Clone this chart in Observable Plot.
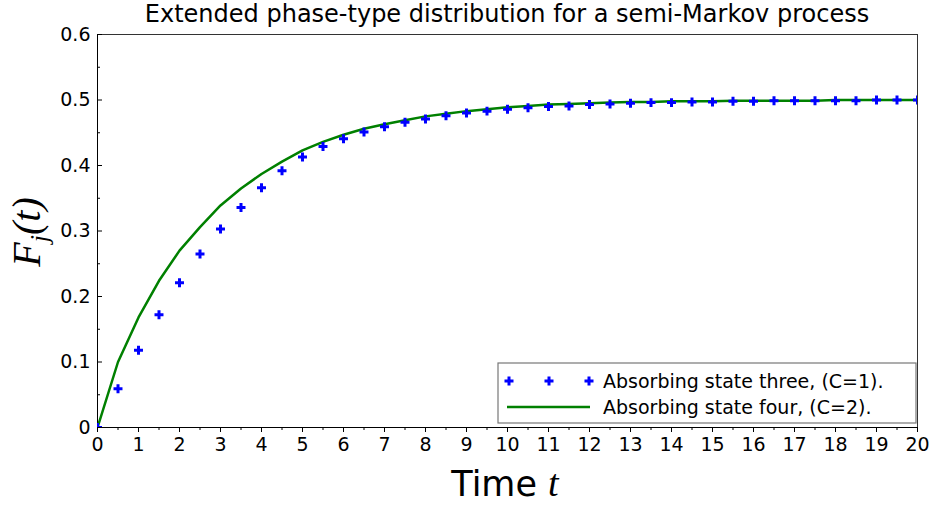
<!DOCTYPE html>
<html><head><meta charset="utf-8">
<script src="https://cdn.jsdelivr.net/npm/d3@7"></script>
<script src="https://cdn.jsdelivr.net/npm/@observablehq/plot@0.6"></script>
<style>body{margin:0;background:#fff;}</style>
</head><body><div id="chart"></div>
<script>
const time = [0,0.5,1,1.5,2,2.5,3,3.5,4,4.5,5,5.5,6,6.5,7,7.5,8,8.5,9,9.5,10,10.5,11,11.5,12,12.5,13,13.5,14,14.5,15,15.5,16,16.5,17,17.5,18,18.5,19,19.5,20];
const stateThree = [0,0.059,0.118,0.172,0.221,0.265,0.303,0.336,0.366,0.392,0.413,0.429,0.441,0.451,0.459,0.466,0.471,0.476,0.480,0.483,0.486,0.488,0.490,0.491,0.493,0.494,0.495,0.496,0.496,0.497,0.497,0.498,0.498,0.499,0.499,0.499,0.499,0.499,0.500,0.500,0.500];
const stateFour = [0,0.100,0.168,0.224,0.270,0.306,0.339,0.365,0.387,0.406,0.423,0.436,0.447,0.456,0.463,0.469,0.475,0.479,0.483,0.486,0.489,0.491,0.493,0.494,0.495,0.496,0.497,0.497,0.498,0.498,0.498,0.499,0.499,0.499,0.499,0.499,0.500,0.500,0.500,0.500,0.500];
const xTicks = [0,1,2,3,4,5,6,7,8,9,10,11,12,13,14,15,16,17,18,19,20];
const xMinorTicks = [0.5,1.5,2.5,3.5,4.5,5.5,6.5,7.5,8.5,9.5,10.5,11.5,12.5,13.5,14.5,15.5,16.5,17.5,18.5,19.5];
const yTicks = [0,0.1,0.2,0.3,0.4,0.5,0.6];
const yTickLabels = ["0","0.1","0.2","0.3","0.4","0.5","0.6"];
const yMinorTicks = [0.05,0.15,0.25,0.35,0.45,0.55];
const titleText = "Extended phase-type distribution for a semi-Markov process";
const seriesNames = ["Absorbing state three, (C=1).", "Absorbing state four, (C=2)."];
const blue = "#0000ff", green = "#008000";

const three = time.map((t, i) => ({t, v: stateThree[i]}));
const four = time.map((t, i) => ({t, v: stateFour[i]}));

const plot = Plot.plot({
  width: 933, height: 506,
  marginLeft: 97, marginRight: 16, marginTop: 34, marginBottom: 79,
  style: {fontFamily: "'DejaVu Sans', sans-serif", fontSize: "19px", background: "white", color: "black"},
  x: {domain: [0, 20]},
  y: {domain: [0, 0.6]},
  marks: [
    Plot.frame({stroke: "#333"}),
    Plot.axisX(xTicks, {tickSize: 5, tickPadding: 5, label: null, fontSize: 19, tickFormat: d => String(d)}),
    Plot.axisX(xMinorTicks, {tickSize: 3, text: null, label: null}),
    Plot.axisY(yTicks, {tickSize: -5, tickPadding: 12, label: null, fontSize: 19, tickFormat: d => yTickLabels[yTicks.indexOf(d)]}),
    Plot.axisY(yMinorTicks, {tickSize: -3, text: null, label: null}),
    Plot.ruleX([0], {stroke: "black"}),
    Plot.ruleY([0], {stroke: "black"}),
    Plot.line(four, {x: "t", y: "v", stroke: green, strokeWidth: 2.5, clip: true}),
    Plot.dot(three, {x: "t", y: "v", symbol: "plus", r: 3, stroke: blue, strokeWidth: 3, clip: true})
  ]
});
document.getElementById("chart").append(plot);

const svg = d3.select(plot);
// title
svg.append("text").attr("x", 507).attr("y", 22).attr("text-anchor", "middle")
  .attr("font-family", "'DejaVu Sans', sans-serif").attr("font-size", 24).attr("fill", "black").text(titleText);
// y label
const yl = svg.append("text").attr("transform", "translate(40,232) rotate(-90)").attr("text-anchor", "middle")
  .attr("font-family", "'Liberation Serif', serif").attr("font-style", "italic").attr("font-size", 40).attr("fill", "black");
yl.append("tspan").text("F");
yl.append("tspan").attr("font-size", 26).attr("dy", 8).text("j");
yl.append("tspan").attr("dy", -8).text("(t)");
// x label
const xl = svg.append("text").attr("x", 505).attr("y", 496).attr("text-anchor", "middle")
  .attr("font-family", "'DejaVu Sans', sans-serif").attr("font-size", 35).attr("fill", "black");
xl.append("tspan").text("Time ");
xl.append("tspan").attr("font-family", "'Liberation Serif', serif").attr("font-style", "italic").attr("font-size", 38).text("t");
// legend
const lg = svg.append("g").attr("font-family", "'DejaVu Sans', sans-serif").attr("font-size", 19).attr("text-anchor", "start");
lg.append("rect").attr("x", 498).attr("y", 363).attr("width", 418).attr("height", 60)
  .attr("fill", "white").attr("stroke", "#777").attr("stroke-width", 1.2);
[509, 549, 589].forEach(px => {
  lg.append("path").attr("d", `M${px-4.5},381H${px+4.5}M${px},376.5V385.5`).attr("fill", "none").attr("stroke", blue).attr("stroke-width", 3);
});
lg.append("text").attr("x", 603).attr("y", 388).attr("fill", "black").text(seriesNames[0]);
lg.append("line").attr("x1", 507).attr("x2", 590).attr("y1", 407).attr("y2", 407).attr("stroke", green).attr("stroke-width", 2.5);
lg.append("text").attr("x", 603).attr("y", 414).attr("fill", "black").text(seriesNames[1]);
</script></body></html>
